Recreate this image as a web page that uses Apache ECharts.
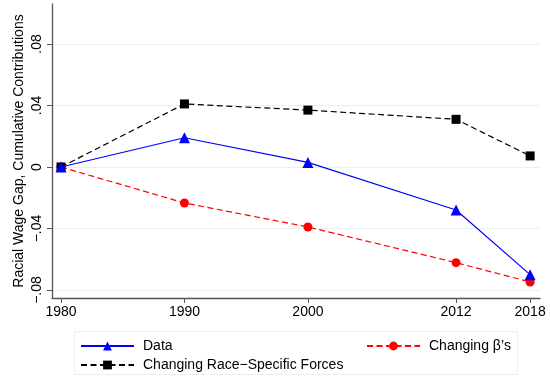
<!DOCTYPE html>
<html>
<head>
<meta charset="utf-8">
<script src="https://cdn.jsdelivr.net/npm/echarts@6/dist/echarts.min.js"></script>
<style>
  html, body { margin: 0; padding: 0; background: #fff; }
  #chart { width: 550px; height: 377px; }
</style>
</head>
<body>
<div id="chart"></div>
<script>
// Census / ACS years shown on the horizontal axis
const years = [1980, 1990, 2000, 2012, 2018];

// Cumulative contributions to the racial wage gap
const dataSeries = [0, 0.019, 0.003, -0.028, -0.070];
const raceForces = [0, 0.041, 0.037, 0.031, 0.0072];
const changingBetas = [0, -0.0234, -0.039, -0.0622, -0.0748];

// Vertical-axis ticks and their printed labels
const yTicks = [-0.08, -0.04, 0, 0.04, 0.08];
const yTickLabels = ['\u2212.08', '\u2212.04', '0', '.04', '.08'];

const FONT = 'Liberation Sans, Arial, Helvetica, sans-serif';
const FONT_SIZE = 14;
const GRID_COLOR = '#e8f0f2';
const AXIS_COLOR = '#555555';

function pairs(values) {
  return years.map((y, i) => [y, values[i]]);
}

const chart = echarts.init(document.getElementById('chart'), null, { renderer: 'canvas' });

chart.setOption({
  animation: false,
  backgroundColor: '#ffffff',
  textStyle: { fontFamily: FONT },
  grid: { left: 52, right: 10, top: 4, bottom: 79, containLabel: false },
  xAxis: {
    type: 'value',
    min: 1979.27,
    max: 2018.8,
    axisLine: { show: true, onZero: false, lineStyle: { color: AXIS_COLOR, width: 1.3 } },
    axisTick: { show: true, length: 5, customValues: years, lineStyle: { color: AXIS_COLOR, width: 1 } },
    axisLabel: {
      customValues: years,
      margin: 7,
      color: '#000',
      fontSize: FONT_SIZE,
      fontFamily: FONT,
      formatter: v => String(Math.round(v))
    },
    splitLine: { show: false }
  },
  yAxis: {
    type: 'value',
    min: -0.0852,
    max: 0.106,
    name: 'Racial Wage Gap, Cumulative Contributions',
    nameLocation: 'middle',
    nameGap: 26,
    nameMoveOverlap: false,
    nameRotate: 90,
    nameTextStyle: { color: '#000', fontSize: FONT_SIZE, fontFamily: FONT },
    axisLine: { show: true, onZero: false, lineStyle: { color: AXIS_COLOR, width: 1.3 } },
    axisTick: { show: true, length: 5, customValues: yTicks, lineStyle: { color: AXIS_COLOR, width: 1 } },
    axisLabel: {
      customValues: yTicks,
      rotate: 90,
      margin: 8,
      color: '#000',
      fontSize: FONT_SIZE,
      fontFamily: FONT,
      formatter: v => {
        const i = yTicks.findIndex(t => Math.abs(t - v) < 1e-9);
        return i >= 0 ? yTickLabels[i] : '';
      }
    },
    splitLine: { show: true, lineStyle: { color: GRID_COLOR, width: 1.2 } }
  },
  legend: [
    {
      orient: 'vertical',
      left: 80,
      top: 339,
      padding: 0,
      itemWidth: 53,
      itemHeight: 11,
      itemGap: 5,
      textStyle: { color: '#000', fontSize: FONT_SIZE, fontFamily: FONT, padding: [0, 0, 0, 4] },
      data: ['Data', 'Changing Race\u2212Specific Forces']
    },
    {
      orient: 'vertical',
      left: 366,
      top: 339,
      padding: 0,
      itemWidth: 53,
      itemHeight: 11,
      textStyle: { color: '#000', fontSize: FONT_SIZE, fontFamily: FONT, padding: [0, 0, 0, 4] },
      data: ['Changing \u03B2\u2019s']
    }
  ],
  graphic: [
    {
      type: 'rect',
      z: -10,
      shape: { x: 74.5, y: 331.5, width: 443, height: 43 },
      style: { fill: '#ffffff', stroke: GRID_COLOR, lineWidth: 1 }
    }
  ],
  series: [
    {
      name: 'Changing \u03B2\u2019s',
      type: 'line',
      data: pairs(changingBetas),
      symbol: 'circle',
      symbolSize: 9,
      itemStyle: { color: '#ff0000' },
      lineStyle: { color: '#ff0000', width: 1.2, type: [6, 3.5] },
      z: 2
    },
    {
      name: 'Changing Race\u2212Specific Forces',
      type: 'line',
      data: pairs(raceForces),
      symbol: 'rect',
      symbolSize: 9,
      itemStyle: { color: '#000000' },
      lineStyle: { color: '#000000', width: 1.2, type: [6, 3.5] },
      z: 3
    },
    {
      name: 'Data',
      type: 'line',
      data: pairs(dataSeries),
      symbol: 'triangle',
      symbolSize: 11,
      itemStyle: { color: '#0000ff' },
      lineStyle: { color: '#0000ff', width: 1.2, type: 'solid' },
      z: 4
    }
  ]
});
</script>
</body>
</html>
